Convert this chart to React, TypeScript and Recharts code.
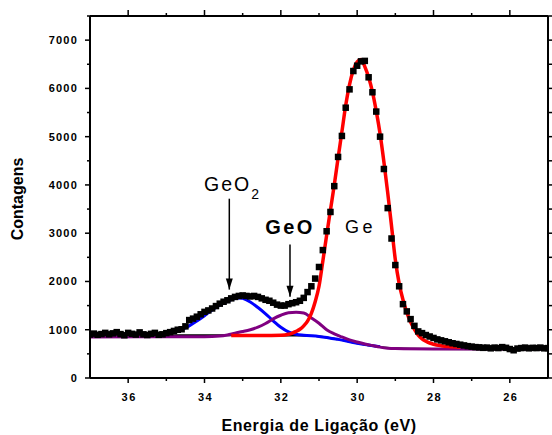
import React from 'react';
import { ComposedChart, Line, XAxis, YAxis, ReferenceDot, ReferenceLine, Label } from 'recharts';

// Measured spectrum (binding energy in eV, counts)
const energy = [
  37.0, 36.9, 36.8, 36.7, 36.6, 36.5, 36.4, 36.3, 36.2, 36.1,
  36.0, 35.9, 35.8, 35.7, 35.6, 35.5, 35.4, 35.3, 35.2, 35.1,
  35.0, 34.9, 34.8, 34.7, 34.6, 34.5, 34.4, 34.3, 34.2, 34.1,
  34.0, 33.9, 33.8, 33.7, 33.6, 33.5, 33.4, 33.3, 33.2, 33.1,
  33.0, 32.9, 32.8, 32.7, 32.6, 32.5, 32.4, 32.3, 32.2, 32.1,
  32.0, 31.9, 31.8, 31.7, 31.6, 31.5, 31.4, 31.3, 31.2, 31.1,
  31.0, 30.9, 30.8, 30.7, 30.6, 30.5, 30.4, 30.3, 30.2, 30.1,
  30.0, 29.9, 29.8, 29.7, 29.6, 29.5, 29.4, 29.3, 29.2, 29.1,
  29.0, 28.9, 28.8, 28.7, 28.6, 28.5, 28.4, 28.3, 28.2, 28.1,
  28.0, 27.9, 27.8, 27.7, 27.6, 27.5, 27.4, 27.3, 27.2, 27.1,
  27.0, 26.9, 26.8, 26.7, 26.6, 26.5, 26.4, 26.3, 26.2, 26.1,
  26.0, 25.9, 25.8, 25.7, 25.6, 25.5, 25.4, 25.3, 25.2, 25.1,
  25.0,
];
const counts = [
  900, 920, 895, 910, 935, 905, 925, 950, 910, 885,
  935, 915, 900, 945, 905, 890, 915, 935, 895, 905,
  930, 950, 975, 1000, 1010, 1070, 1200, 1230, 1270, 1320,
  1370, 1400, 1440, 1490, 1540, 1580, 1610, 1650, 1680, 1700,
  1710, 1700, 1690, 1700, 1680, 1650, 1620, 1600, 1560, 1520,
  1500, 1500, 1530, 1550, 1570, 1600, 1660, 1780, 1900, 2060,
  2300, 2650, 3040, 3440, 3975, 4580, 5015, 5600, 5980, 6360,
  6470, 6560, 6570, 6230, 5920, 5520, 5000, 4330, 3520, 2890,
  2340, 1900, 1530, 1380, 1220, 1080, 965, 930, 890, 860,
  830, 800, 780, 760, 740, 720, 705, 690, 675, 660,
  650, 640, 635, 625, 630, 615, 630, 620, 640, 625,
  600, 575, 610, 620, 630, 615, 625, 620, 630, 615,
  620,
];

// Background (black)
const bgE = [37, 33, 32, 31.5, 31, 30.5, 30, 29.5, 29, 28.5, 28, 25];
const bgC = [885, 885, 882, 878, 862, 800, 720, 655, 615, 605, 600, 595];

// GeO2 component (blue)
const geo2E = [35.4, 35.2, 35.0, 34.8, 34.6, 34.4, 34.2, 34.0, 33.8, 33.6, 33.4, 33.2, 33.1, 33.0, 32.8, 32.6, 32.4, 32.2, 32.0, 31.8, 31.6, 31.4, 31.0, 30.5, 30.0, 29.4];
const geo2C = [885, 895, 915, 950, 1005, 1080, 1180, 1290, 1410, 1510, 1590, 1645, 1660, 1650, 1575, 1460, 1330, 1185, 1050, 955, 905, 885, 862, 800, 720, 650];

// GeO component (purple)
const geoE = [37, 34, 33.6, 33.4, 33.2, 33.0, 32.8, 32.6, 32.4, 32.2, 32.0, 31.8, 31.6, 31.4, 31.2, 31.0, 30.8, 30.6, 30.4, 30.2, 30.0, 29.8, 29.6, 29.4, 29.2, 29.0, 28.0, 25];
const geoC = [852, 855, 868, 892, 930, 962, 1000, 1055, 1130, 1225, 1300, 1350, 1360, 1345, 1245, 1135, 1000, 915, 850, 790, 745, 705, 672, 640, 618, 610, 602, 598];

// Ge component (red)
const geE = [33.3, 32.5, 32.0, 31.8, 31.7, 31.6, 31.5, 31.4, 31.3, 31.2, 31.1, 31.0, 30.9, 30.8, 30.7, 30.6, 30.5, 30.4, 30.3, 30.2, 30.1, 30.0, 29.9, 29.8, 29.7, 29.6, 29.5, 29.4, 29.3, 29.2, 29.1, 29.0, 28.9, 28.8, 28.7, 28.6, 28.5, 28.4, 28.3, 28.2, 28.1, 28.0, 27.8, 27.6, 27.3];
const geC = [880, 880, 885, 905, 930, 965, 1010, 1080, 1180, 1340, 1580, 1900, 2420, 2960, 3480, 4000, 4560, 5100, 5650, 6080, 6380, 6550, 6600, 6450, 6230, 5930, 5530, 5060, 4480, 3840, 3150, 2450, 1960, 1620, 1360, 1160, 1010, 890, 810, 760, 725, 700, 670, 652, 638];

const xTicks = [26, 27, 28, 29, 30, 31, 32, 33, 34, 35, 36];
const yTicks = [0, 500, 1000, 1500, 2000, 2500, 3000, 3500, 4000, 4500, 5000, 5500, 6000, 6500, 7000, 7500];

// Annotations: [x (eV), y (counts)]
const arrowGeO2 = { x: 33.35, top: 3715, tip: 1832 };
const arrowGeO = { x: 31.76, top: 2766, tip: 1681 };
const labelGeO2 = { x: 34.01, y: 3872 };
const labelGeO = { x: 32.41, y: 2988 };
const labelGe = { x: 30.32, y: 3009 };

const zip = (xs: number[], ys: number[]) => xs.map((x, i) => ({ x, y: ys[i] }));
const scatterData = zip(energy, counts);
const bgData = zip(bgE, bgC);
const geo2Data = zip(geo2E, geo2C);
const geoData = zip(geoE, geoC);
const geData = zip(geE, geC);

const FONT = '"Liberation Sans", Arial, Helvetica, sans-serif';

const SquareDot = (p: any) => {
  if (p.cx == null || p.cy == null) return <g key={`s${p.index}`} />;
  return <rect key={`s${p.index}`} x={p.cx - 3.25} y={p.cy - 3.25} width={6.5} height={6.5} fill="#000" />;
};

const BottomTick = (p: any) => {
  const { x, y, payload } = p;
  const v = payload.value;
  const major = v % 2 === 0;
  return (
    <g>
      <line x1={x} y1={y} x2={x} y2={y + (major ? 5 : 3)} stroke="#000" strokeWidth={1.5} />
      {major && (
        <text x={x + 1} y={y + 23} textAnchor="middle" fontFamily={FONT} fontWeight="bold" fontSize={11} letterSpacing={1.5} fill="#000">
          {v}
        </text>
      )}
    </g>
  );
};

const TopTick = (p: any) => {
  const { x, y, payload } = p;
  const major = payload.value % 2 === 0;
  return <line x1={x} y1={y} x2={x} y2={y - (major ? 6 : 3)} stroke="#000" strokeWidth={1.5} />;
};

const LeftTick = (p: any) => {
  const { x, y, payload } = p;
  const v = payload.value;
  const major = v % 1000 === 0;
  return (
    <g>
      <line x1={x} y1={y} x2={x - (major ? 5 : 3)} y2={y} stroke="#000" strokeWidth={1.5} />
      {major && v <= 7000 && (
        <text x={x - 12} y={y + 4} textAnchor="end" fontFamily={FONT} fontWeight="bold" fontSize={11} letterSpacing={1.2} fill="#000">
          {v}
        </text>
      )}
    </g>
  );
};

const RightTick = (p: any) => {
  const { x, y } = p;
  return <line x1={x} y1={y} x2={x + 4} y2={y} stroke="#000" strokeWidth={1.5} />;
};

const arrowHead = (p: any) => (
  <polygon points={`${p.cx},${p.cy} ${p.cx - 3.5},${p.cy - 11} ${p.cx + 3.5},${p.cy - 11}`} fill="#000" />
);

export default function App() {
  return (
    <div style={{ position: 'absolute', left: 0, top: 0 }}>
      <ComposedChart width={552} height={435} margin={{ top: 6, right: 0, bottom: 22, left: 30 }}>
        <XAxis
          xAxisId={0}
          dataKey="x"
          type="number"
          domain={[25, 37]}
          reversed
          ticks={xTicks}
          interval={0}
          allowDataOverflow
          height={35}
          tickSize={0}
          tickMargin={0}
          tickLine={false}
          tick={<BottomTick />}
          axisLine={{ stroke: '#000', strokeWidth: 2 }}
        >
          <Label
            content={(props: any) => {
              const vb = props.viewBox;
              return (
                <text x={vb.x + vb.width / 2} y={vb.y + 53} textAnchor="middle" fontFamily={FONT} fontWeight="bold" fontSize={16} letterSpacing={0.6} fill="#000">
                  Energia de Ligação (eV)
                </text>
              );
            }}
          />
        </XAxis>
        <XAxis
          xAxisId="top"
          orientation="top"
          dataKey="x"
          type="number"
          domain={[25, 37]}
          reversed
          ticks={xTicks}
          interval={0}
          allowDataOverflow
          height={10}
          tickSize={0}
          tickMargin={0}
          tickLine={false}
          tick={<TopTick />}
          axisLine={{ stroke: '#000', strokeWidth: 2 }}
        />
        <YAxis
          yAxisId={0}
          type="number"
          domain={[0, 7500]}
          ticks={yTicks}
          interval={0}
          allowDataOverflow
          width={60}
          tickSize={0}
          tickMargin={0}
          tickLine={false}
          tick={<LeftTick />}
          axisLine={{ stroke: '#000', strokeWidth: 2 }}
        >
          <Label
            content={(props: any) => {
              const vb = props.viewBox;
              const cx = vb.x + vb.width - 71;
              const cy = vb.y + vb.height / 2 + 2;
              return (
                <text x={cx} y={cy} transform={`rotate(-90 ${cx} ${cy})`} textAnchor="middle" dominantBaseline="middle" fontFamily={FONT} fontWeight="bold" fontSize={16} fill="#000">
                  Contagens
                </text>
              );
            }}
          />
        </YAxis>
        <YAxis
          yAxisId="right"
          orientation="right"
          type="number"
          domain={[0, 7500]}
          ticks={yTicks}
          interval={0}
          allowDataOverflow
          width={4}
          tickSize={0}
          tickMargin={0}
          tickLine={false}
          tick={<RightTick />}
          axisLine={{ stroke: '#000', strokeWidth: 2 }}
        />

        <Line data={scatterData} dataKey="y" stroke="none" dot={SquareDot} activeDot={false} isAnimationActive={false} />
        <Line data={bgData} dataKey="y" xAxisId="top" yAxisId="right" type="monotone" stroke="#000" strokeWidth={2} dot={false} activeDot={false} isAnimationActive={false} />
        <Line data={geo2Data} dataKey="y" type="monotone" stroke="#0000ff" strokeWidth={3} dot={false} activeDot={false} isAnimationActive={false} />
        <Line data={geoData} dataKey="y" type="monotone" stroke="#800080" strokeWidth={3} dot={false} activeDot={false} isAnimationActive={false} />
        <Line data={geData} dataKey="y" type="monotone" stroke="#ff0000" strokeWidth={3.5} dot={false} activeDot={false} isAnimationActive={false} />

        <ReferenceLine segment={[{ x: arrowGeO2.x, y: arrowGeO2.top }, { x: arrowGeO2.x, y: arrowGeO2.tip }]} stroke="#000" strokeWidth={1.5} />
        <ReferenceDot x={arrowGeO2.x} y={arrowGeO2.tip} shape={arrowHead} />
        <ReferenceLine segment={[{ x: arrowGeO.x, y: arrowGeO.top }, { x: arrowGeO.x, y: arrowGeO.tip }]} stroke="#000" strokeWidth={1.5} />
        <ReferenceDot x={arrowGeO.x} y={arrowGeO.tip} shape={arrowHead} />

        <ReferenceDot
          x={labelGeO2.x}
          y={labelGeO2.y}
          shape={(p: any) => (
            <text x={p.cx} y={p.cy} fontFamily={FONT} fontSize={19.5} letterSpacing={2} fill="#000">
              GeO
              <tspan fontSize={14} dy={8}>2</tspan>
            </text>
          )}
        />
        <ReferenceDot
          x={labelGeO.x}
          y={labelGeO.y}
          shape={(p: any) => (
            <text x={p.cx} y={p.cy} fontFamily={FONT} fontWeight="bold" fontSize={20} letterSpacing={2.5} fill="#000">
              GeO
            </text>
          )}
        />
        <ReferenceDot
          x={labelGe.x}
          y={labelGe.y}
          shape={(p: any) => (
            <text x={p.cx} y={p.cy} fontFamily={FONT} fontSize={18} letterSpacing={3.5} fill="#000">
              Ge
            </text>
          )}
        />
      </ComposedChart>
    </div>
  );
}
